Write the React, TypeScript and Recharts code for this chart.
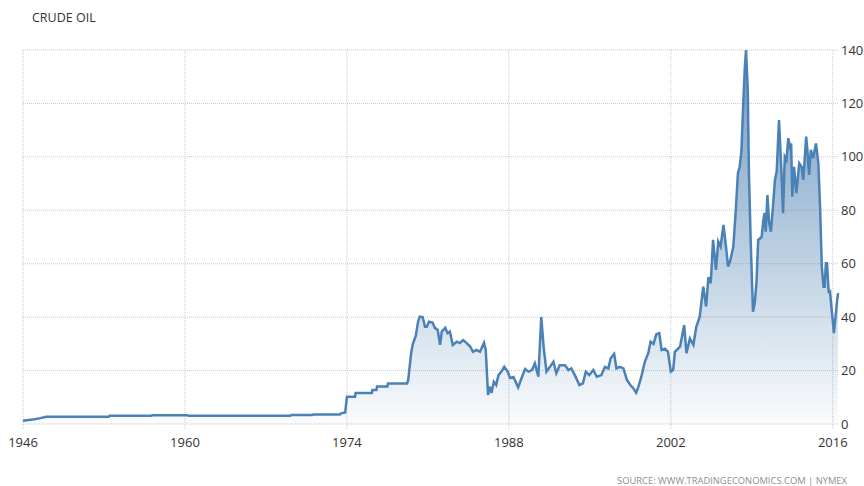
import { AreaChart, Area, XAxis, YAxis, CartesianGrid } from "recharts";

// time in decimal years, price in USD/bbl
const years = [
  1946.0, 1946.5, 1947.0, 1947.5, 1948.0, 1953.4, 1953.5, 1957.1, 1957.2, 1960.2,
  1960.3, 1969.1, 1969.2, 1971.0, 1971.1, 1973.4, 1973.5, 1973.85, 1974.0, 1974.7,
  1974.75, 1976.15, 1976.2, 1976.55, 1976.6, 1977.5, 1977.55, 1979.2, 1979.3, 1979.55,
  1979.7, 1979.95, 1980.15, 1980.3, 1980.55, 1980.75, 1980.9, 1981.1, 1981.4, 1981.6,
  1981.85, 1982.05, 1982.2, 1982.5, 1982.7, 1982.9, 1983.15, 1983.5, 1983.75, 1984.05,
  1984.35, 1984.65, 1984.9, 1985.2, 1985.5, 1985.85, 1986.0, 1986.2, 1986.35, 1986.5,
  1986.7, 1986.9, 1987.1, 1987.35, 1987.6, 1987.9, 1988.1, 1988.4, 1988.8, 1989.1,
  1989.4, 1989.7, 1990.0, 1990.25, 1990.55, 1990.8, 1991.0, 1991.25, 1991.55, 1991.85,
  1992.1, 1992.4, 1992.85, 1993.15, 1993.4, 1993.7, 1994.1, 1994.4, 1994.65, 1994.95,
  1995.3, 1995.6, 1996.0, 1996.3, 1996.6, 1996.8, 1997.1, 1997.3, 1997.6, 1997.9,
  1998.2, 1998.5, 1998.75, 1999.0, 1999.2, 1999.45, 1999.75, 2000.05, 2000.25, 2000.5,
  2000.75, 2001.0, 2001.2, 2001.5, 2001.75, 2002.0, 2002.2, 2002.35, 2002.8, 2003.15,
  2003.35, 2003.65, 2003.95, 2004.2, 2004.5, 2004.8, 2005.05, 2005.25, 2005.45, 2005.65,
  2005.9, 2006.1, 2006.3, 2006.55, 2006.75, 2006.95, 2007.15, 2007.4, 2007.6, 2007.8,
  2007.95, 2008.1, 2008.25, 2008.4, 2008.5, 2008.65, 2008.75, 2008.9, 2009.1, 2009.25,
  2009.4, 2009.55, 2009.85, 2010.0, 2010.1, 2010.2, 2010.35, 2010.5, 2010.65, 2010.85,
  2011.0, 2011.15, 2011.35, 2011.55, 2011.7, 2011.85, 2012.0, 2012.15, 2012.3, 2012.4,
  2012.5, 2012.65, 2012.85, 2013.1, 2013.3, 2013.45, 2013.7, 2013.8, 2013.95, 2014.1,
  2014.3, 2014.55, 2014.75, 2014.9, 2015.05, 2015.2, 2015.3, 2015.4, 2015.5, 2015.65,
  2015.75, 2015.85, 2016.1, 2016.35, 2016.45,
];

const prices = [
  1.2, 1.5, 1.8, 2.2, 2.7, 2.7, 3.1, 3.1, 3.3, 3.3,
  3.1, 3.1, 3.4, 3.4, 3.6, 3.6, 4.0, 4.3, 10.2, 10.2,
  11.6, 11.6, 12.7, 12.7, 14.0, 14.0, 15.2, 15.2, 16.5, 26.5,
  30, 33, 38.3, 40.2, 40, 36.4, 36.4, 38.3, 38, 36,
  35.2, 29.6, 34.6, 36, 34, 34.6, 29.6, 30.8, 30.3, 31.4,
  30.3, 29, 27, 27.7, 27, 30.4, 27.7, 10.9, 14, 11.6,
  15.8, 14.6, 18.3, 19.6, 21.4, 19.6, 17.2, 17.6, 13.7, 17.2,
  20.6, 19.6, 20.2, 22.7, 17.7, 40, 29, 19.6, 21.4, 23.3,
  19, 22, 22, 20.2, 20.8, 18.3, 14.6, 15.2, 19.6, 18.3,
  20.2, 17.7, 18.3, 21.4, 20.8, 24.6, 26.2, 20.8, 21.4, 20.8,
  16.5, 14.6, 13.4, 11.7, 14, 17.7, 23.3, 26.5, 30.8, 30,
  33.6, 34, 27.7, 28.2, 27, 19.6, 20.2, 27, 29, 37,
  26.5, 32, 29.6, 36.4, 40.2, 51.4, 44, 55, 52.7, 68.9,
  57.7, 68.3, 66.4, 74.5, 67, 58.9, 61.4, 66.4, 79, 93.9,
  96.3, 102, 118.8, 133.8, 140, 125, 93.9, 68.9, 42, 45.3,
  52.7, 68.9, 70, 76.4, 79, 72, 85.7, 75.2, 72, 82.6,
  91.4, 94.5, 113.8, 95.7, 78.9, 100, 98.8, 107, 103.8, 105,
  85.1, 96.3, 86.4, 97.6, 96.3, 91.4, 107.6, 102.6, 93.2, 102.6,
  99.5, 105, 97.6, 81.4, 58.9, 51.4, 51.4, 60.2, 60.2, 49,
  50.2, 45.2, 34, 45.2, 49,
];

const xTicks = [1946, 1960, 1974, 1988, 2002, 2016];
const yTicks = [0, 20, 40, 60, 80, 100, 120, 140];

const data = years.map((t, i) => ({ t, price: prices[i] }));

const font = "'Open Sans', 'Noto Sans', sans-serif";

export default function App() {
  return (
    <div style={{ position: "absolute", left: 0, top: 0, width: 864, height: 486, background: "#fff", fontFamily: font }}>
      <div style={{ position: "absolute", left: 32, top: 8.5, fontSize: 12.5, lineHeight: "17px", color: "#333" }}>
        CRUDE OIL
      </div>
      <AreaChart width={864} height={486} data={data} margin={{ top: 50, right: 0, bottom: 32, left: 23 }}>
        <defs>
          <linearGradient id="oilFill" x1="0" y1="0" x2="0" y2="1">
            <stop offset="0%" stopColor="#4a7fb0" stopOpacity={0.78} />
            <stop offset="100%" stopColor="#4a7fb0" stopOpacity={0.03} />
          </linearGradient>
        </defs>
        <CartesianGrid stroke="#c8c8c8" strokeDasharray="1 1" syncWithTicks />
        <XAxis
          dataKey="t" type="number" domain={[1946, 2016.45]} ticks={xTicks} interval={0}
          axisLine={false} tickSize={5} tickMargin={9}
          tickLine={{ stroke: "#c8c8c8", strokeDasharray: "1 1" }}
          tick={{ fill: "#333", fontSize: 13, fontFamily: font }} height={30}
        />
        <YAxis
          orientation="right" domain={[0, 140]} ticks={yTicks} interval={0} width={26}
          axisLine={false} tickLine={false} tickSize={0} tickMargin={3}
          tick={{ fill: "#333", fontSize: 13, fontFamily: font }}
        />
        <Area
          type="linear" dataKey="price" stroke="#4a81b6" strokeWidth={2.5}
          fill="url(#oilFill)" fillOpacity={1} dot={false} activeDot={false}
          isAnimationActive={false}
        />
      </AreaChart>
      <div style={{ position: "absolute", right: 17, top: 474, fontSize: 9.4, lineHeight: "13px", color: "#8e8e8e", whiteSpace: "nowrap" }}>
        SOURCE: WWW.TRADINGECONOMICS.COM | NYMEX
      </div>
    </div>
  );
}
